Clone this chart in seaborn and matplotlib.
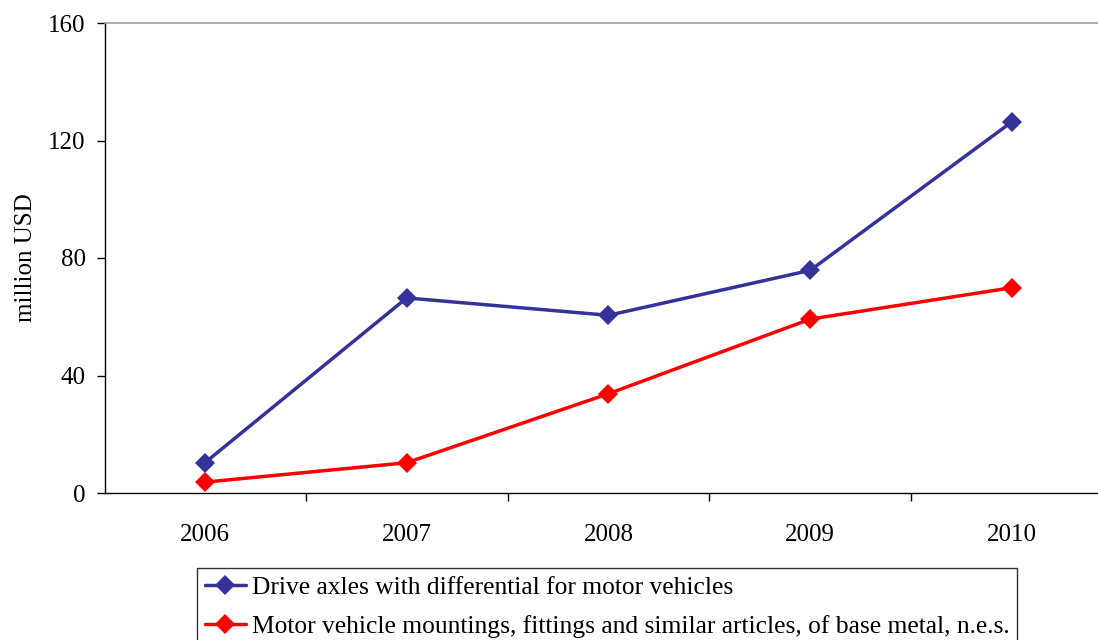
import matplotlib
matplotlib.use("Agg")
import matplotlib.pyplot as plt
import seaborn as sns
import pandas as pd
import numpy as np

years = ["2006", "2007", "2008", "2009", "2010"]
series_names = [
    "Drive axles with differential for motor vehicles",
    "Motor vehicle mountings, fittings and similar articles, of base metal, n.e.s.",
]
drive_axles = [10.3, 66.4, 60.5, 75.8, 126.4]
mountings = [3.7, 10.3, 33.8, 59.2, 69.9]
colors = ["#333399", "#FF0000"]
y_ticks = [0, 40, 80, 120, 160]

sns.set_theme(style="white")
plt.rcParams["font.family"] = ["Liberation Serif", "DejaVu Serif"]
FS = 18

rows = []
for name, vals in zip(series_names, [drive_axles, mountings]):
    for i, (yr, v) in enumerate(zip(years, vals)):
        rows.append({"idx": i, "year": yr, "value": v, "series": name})
df = pd.DataFrame(rows)

fig = plt.figure(figsize=(10.98, 6.4), dpi=100)
ax = fig.add_axes([105 / 1098, 1 - 493 / 640, 1 - 105 / 1098, (493 - 23) / 640])

sns.lineplot(
    data=df, x="idx", y="value", hue="series", style="series",
    hue_order=series_names, style_order=series_names,
    palette=colors, markers=["D", "D"], dashes=False,
    markersize=10.5, linewidth=2.5, markeredgewidth=0,
    ax=ax, legend=True,
)

ax.set_yticks(y_ticks)
ax.set_yticklabels([str(t) for t in y_ticks], fontsize=FS)
ax.set_xticks(range(len(years)))
ax.set_xticklabels(years, fontsize=FS)
ax.set_xticks(np.arange(-0.5, 4.0, 1.0), minor=True)
ax.set_xlim(-0.495, 4.426)
ax.set_ylim(0, 160)
ax.tick_params(axis="x", which="major", length=0, pad=22, colors="black")
ax.tick_params(axis="x", which="minor", length=6, width=1, color="black", direction="out", bottom=True)
ax.tick_params(axis="y", which="major", length=6, width=1, color="black", direction="out", left=True, pad=8, colors="black")
ax.set_xlabel("")
ax.set_ylabel("million USD", fontsize=FS, labelpad=8, color="black")

for s in ["left", "bottom"]:
    ax.spines[s].set_visible(True)
    ax.spines[s].set_color("black")
    ax.spines[s].set_linewidth(1.0)
ax.spines["top"].set_visible(True)
ax.spines["top"].set_color("#a0a0a0")
ax.spines["top"].set_linewidth(1.2)
ax.spines["right"].set_visible(False)
ax.grid(False)

handles, labels = ax.get_legend_handles_labels()
ax.legend_.remove()
leg = fig.legend(
    handles, labels, loc="upper left",
    bbox_to_anchor=(197 / 1098, 1 - 568 / 640),
    frameon=True, fancybox=False, edgecolor="black", fontsize=18.4,
    handlelength=1.6, handletextpad=0.25, labelspacing=0.65,
    borderaxespad=0, borderpad=0.3,
)
leg.get_frame().set_linewidth(1.0)
for t in leg.get_texts():
    t.set_color("black")

fig.savefig("out.png", dpi=100, facecolor="white")
